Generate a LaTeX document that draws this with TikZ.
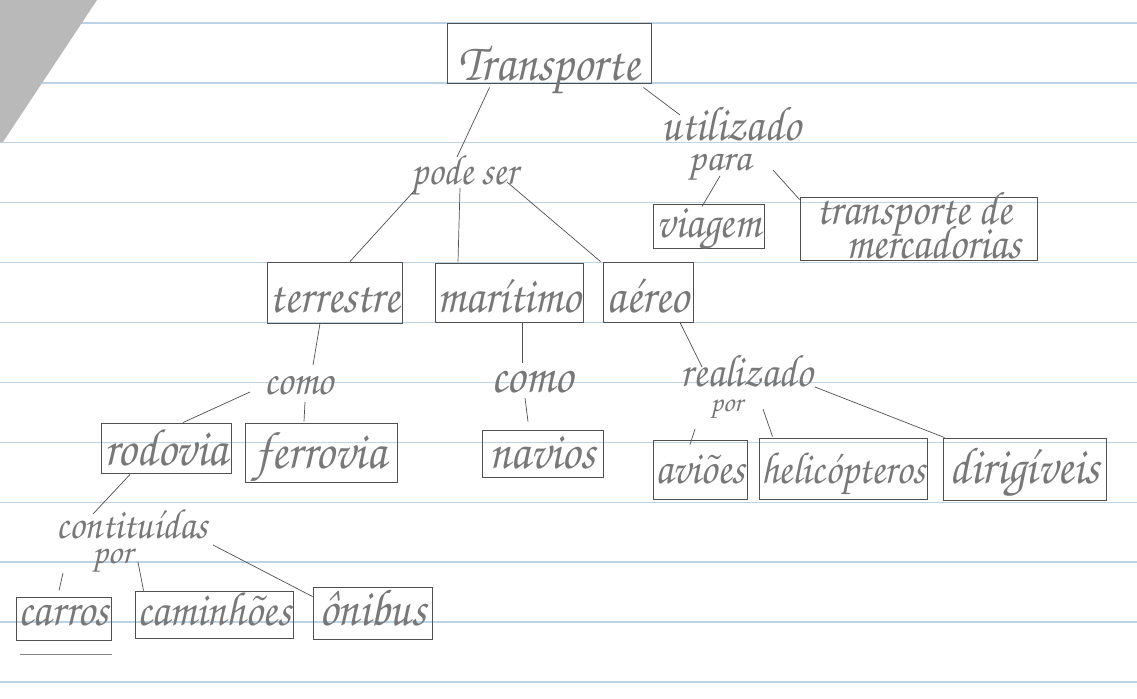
\documentclass[tikz,border=0pt]{standalone}
\usepackage{fontspec}
\usepackage{graphicx}
\setmainfont{texgyrechorus-mediumitalic.otf}
\usetikzlibrary{calc}
\definecolor{pencil}{HTML}{505050}
\definecolor{graphite}{HTML}{787878}
\definecolor{ruleblue}{HTML}{BCD3E6}
% tall, narrow pencil lettering
\newcommand\hw[1]{\scalebox{1}[1.12]{#1}}
\begin{document}
\begin{tikzpicture}[x=0.025cm,y=-0.025cm,
  bx/.style={draw=pencil, line width=0.65pt, inner sep=0pt, text=graphite, text depth=0pt},
  fs/.style={font=\fontsize{#1}{#1}\selectfont},
  bl/.style={text height=#1},
  lbl/.style={inner sep=0pt, text=graphite, anchor=base},
  link/.style={draw=pencil, line width=0.5pt}]
\useasboundingbox (0,0) rectangle (1137,698);
% notebook page
\fill[white] (0,0) rectangle (1137,698);
\foreach \k in {0,...,11}
  \draw[ruleblue, line width=0.9pt] (0,23+59.9*\k) -- (1137,23+59.9*\k);
\fill[gray!55] (0,0) -- (97,0) -- (3,142) -- (0,142) -- cycle;

% boxes
\node[bx, fs=34, bl=1.35cm, minimum width=5.1cm, minimum height=1.5cm] (T) at (549,53) {\hw{Transporte}};
\node[bx, fs=30, bl=0.55cm, minimum width=2.775cm, minimum height=1.1cm] (via) at (708.5,226) {\hw{viagem}};
\node[bx, fs=30, text height=0pt, text depth=0.225cm, minimum width=5.925cm, minimum height=1.575cm] (mer) at (918.5,228.5)
  {\begin{tabular}[t]{@{}l@{}}\hw{transporte de}\\[-7pt]\hspace*{0.75cm}\hw{mercadorias}\end{tabular}};
\node[bx, fs=32, bl=0.975cm, minimum width=3.375cm, minimum height=1.525cm] (ter) at (334.5,292.5) {\hw{terrestre}};
\node[bx, fs=32, bl=0.975cm, minimum width=3.7cm, minimum height=1.475cm] (mar) at (509,292.5) {\hw{marítimo}};
\node[bx, fs=32.5, bl=1.0cm, minimum width=2.25cm, minimum height=1.5cm] (aer) at (648,292) {\hw{aéreo}};
\node[bx, fs=33.5, bl=0.85cm, minimum width=3.25cm, minimum height=1.25cm] (rod) at (166,448) {\hw{rodovia}};
\node[bx, fs=33.5, bl=0.775cm, minimum width=3.8cm, minimum height=1.475cm] (fer) at (321,452.5) {\hw{ferrovia}};
\node[bx, fs=33, bl=0.725cm, minimum width=3.025cm, minimum height=1.175cm] (nav) at (542.5,453.5) {\hw{navios}};
\node[bx, fs=29.5, bl=0.675cm, minimum width=2.35cm, minimum height=1.475cm] (avi) at (700,469.5) {\hw{aviões}};
\node[bx, fs=28.5, bl=0.725cm, minimum width=4.2cm, minimum height=1.525cm] (hel) at (843,468.5) {\hw{helicópteros}};
\node[bx, fs=33, bl=0.7cm, minimum width=4.075cm, minimum height=1.55cm] (dir) at (1024.5,469) {\hw{dirigíveis}};
\node[bx, fs=31, bl=0.325cm, minimum width=2.375cm, minimum height=1.075cm] (car) at (63.5,618.5) {\hw{carros}};
\node[bx, fs=30.5, bl=0.525cm, minimum width=3.95cm, minimum height=1.175cm] (cam) at (214,614.5) {\hw{caminhões}};
\node[bx, fs=33, bl=0.6cm, minimum width=2.975cm, minimum height=1.3cm] (oni) at (372.5,613) {\hw{ônibus}};
\draw[pencil!70, line width=0.5pt] ($(car.south west)+(4,14)$) -- ($(car.south east)+(1,14)$);

% linking words
\node[lbl, fs=27] (pode) at (465,184) {\hw{pode ser}};
\node[lbl, fs=31] (util) at (731,140)
  {\begin{tabular}[t]{@{}c@{}}\hw{utilizado}\\[-9pt]{\fontsize{28}{28}\selectfont para}\hspace*{15.6pt}\end{tabular}};
\node[lbl, fs=28] (como1) at (299,394) {\hw{como}};
\node[lbl, fs=33] (como2) at (532,392) {\hw{como}};
\node[lbl, fs=29] (real) at (747,386)
  {\begin{tabular}[t]{@{}c@{}}\hw{realizado}\\[-11pt]{\fontsize{20}{20}\selectfont por}\hspace*{29pt}\end{tabular}};
\node[lbl, fs=27] (cons) at (132,538)
  {\begin{tabular}[t]{@{}c@{}}\hw{contituídas}\\[-9pt]{\fontsize{25}{25}\selectfont por}\hspace*{28pt}\end{tabular}};

% connectors
\draw[link] ($(T.south west)+(43,4)$) -- ($(pode.base)+(-8,-27)$);
\draw[link] ($(T.south east)+(-8,4)$) -- ($(util.base)+(-51,-25)$);
\draw[link] ($(pode.base)+(-50,6)$) -- ($(ter.north)+(15.5,0)$);
\draw[link] ($(pode.base)+(-5,4)$) -- ($(mar.north)+(-51,-1)$);
\draw[link] ($(pode.base)+(42,-2)$) -- ($(aer.north west)+(-2,0)$);
\draw[link] ($(util.base)+(-11,36)$) -- ($(via.north)+(-6.5,3)$);
\draw[link] ($(util.base)+(42,30)$) -- ($(mer.north west)+(0,3)$);
\draw[link] ($(ter.south)+(-14.5,0)$) -- ($(como1.base)+(14,-29)$);
\draw[link] ($(mar.south)+(13,0)$) -- ($(como2.base)+(-10,-29)$);
\draw[link] ($(aer.south)+(32,0)$) -- ($(real.base)+(-45,-19)$);
\draw[link] ($(como1.base)+(-49,-2)$) -- ($(rod.north)+(17,0)$);
\draw[link] ($(como1.base)+(6,8)$) -- ($(fer.north)+(-17,-1)$);
\draw[link] ($(como2.base)+(-7,6)$) -- ($(nav.north)+(-14.5,-8)$);
\draw[link] ($(real.base)+(-52,43)$) -- ($(avi.north)+(-10,5)$);
\draw[link] ($(real.base)+(16,23)$) -- ($(hel.north west)+(14,-1)$);
\draw[link] ($(real.base)+(68,1)$) -- ($(dir.north west)+(2,0)$);
\draw[link] ($(rod.south)+(-36,1)$) -- ($(cons.base)+(-39,-24)$);
\draw[link] ($(cons.base)+(-69,35)$) -- ($(car.north)+(-4.5,-6)$);
\draw[link] ($(cons.base)+(6,24)$) -- ($(cam.north west)+(9,0)$);
\draw[link] ($(cons.base)+(81,7)$) -- ($(oni.north west)+(0,10)$);
\end{tikzpicture}
\end{document}
